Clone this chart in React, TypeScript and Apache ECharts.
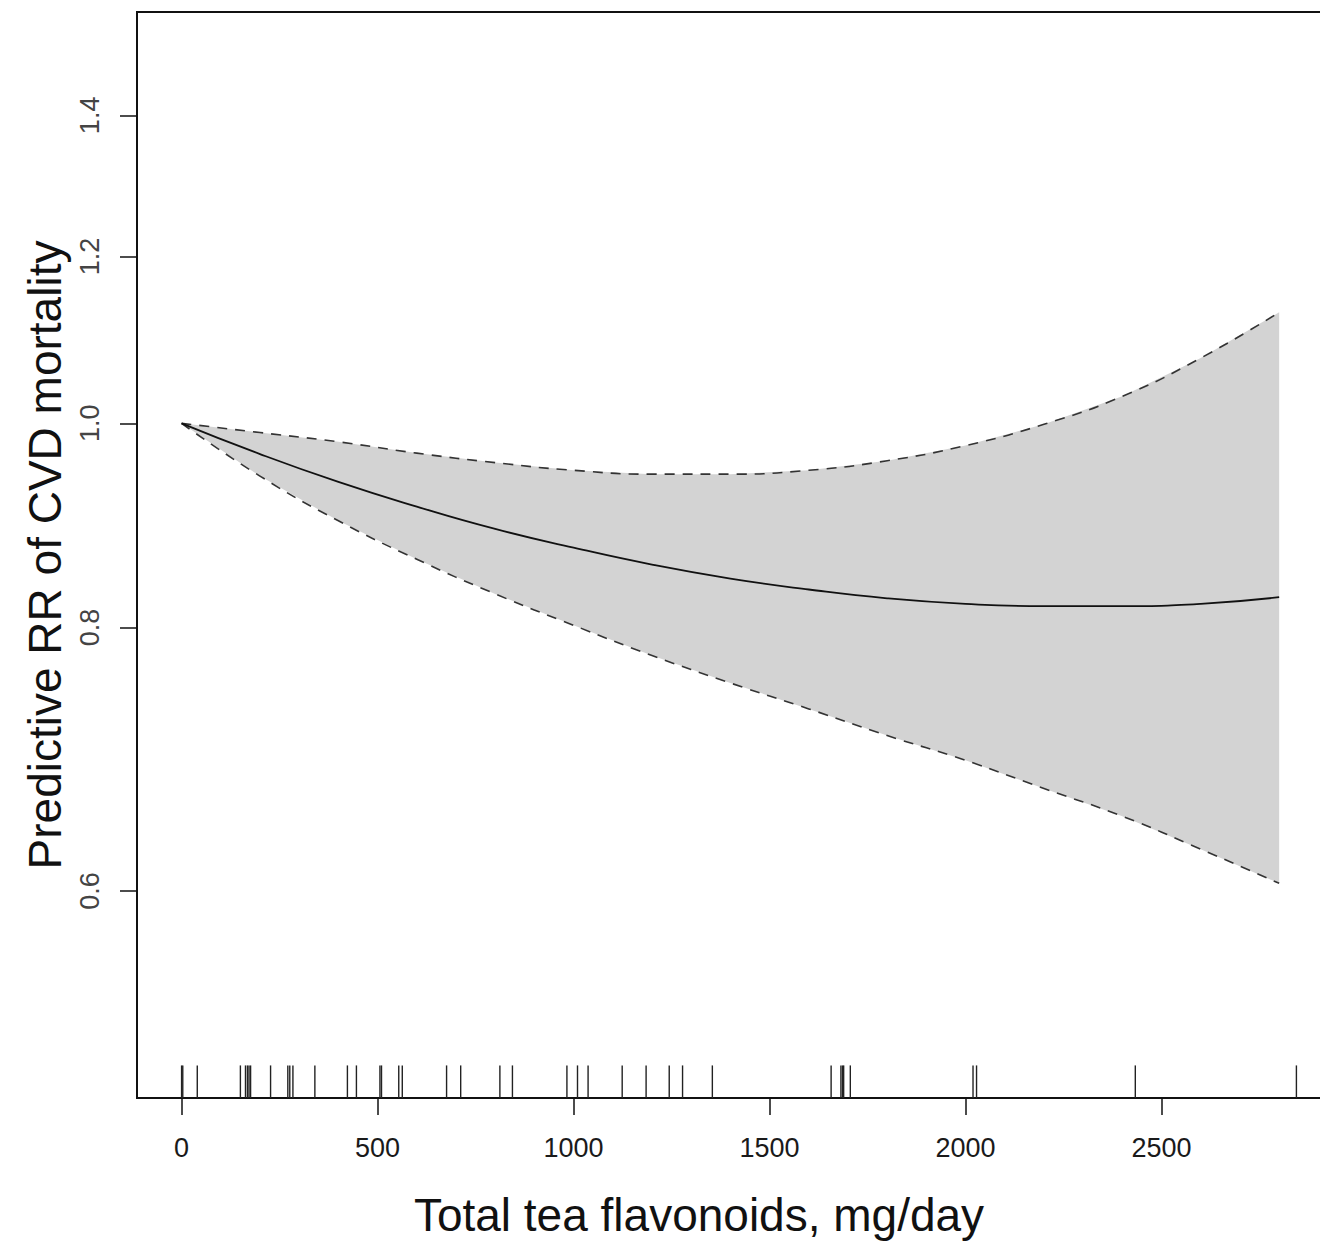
import React, { useEffect, useRef } from "react";
import * as echarts from "echarts";

// Predicted relative risk of CVD mortality by total tea flavonoid intake
// (spline estimate with 95% confidence band, rug of observed intakes).
const INTAKE = [0, 200, 400, 600, 800, 1000, 1200, 1400, 1600, 1800, 2000, 2200, 2400, 2600, 2800];
const RR_MEAN = [1.0, 0.967, 0.938, 0.913, 0.891, 0.873, 0.857, 0.844, 0.834, 0.826, 0.821, 0.819, 0.819, 0.821, 0.827];
const RR_UPPER = [1.0, 0.99, 0.98, 0.968, 0.958, 0.95, 0.946, 0.946, 0.95, 0.96, 0.976, 0.999, 1.03, 1.074, 1.129];
const RR_LOWER = [1.0, 0.944, 0.899, 0.862, 0.83, 0.802, 0.776, 0.753, 0.732, 0.711, 0.692, 0.671, 0.651, 0.628, 0.605];

// Observed intakes shown as a rug along the bottom
const RUG = [
  0, 3, 40, 150, 163, 168, 172, 176, 227, 271, 276, 284, 340, 423, 446, 506, 510, 554, 563, 676, 712,
  812, 844, 983, 1010, 1037, 1124, 1185, 1244, 1278, 1354, 1657, 1682, 1686, 1689, 1706, 2019, 2028,
  2433, 2844,
];

const X_TICKS = [0, 500, 1000, 1500, 2000, 2500];
const Y_TICKS = [0.6, 0.8, 1.0, 1.2, 1.4];
const X_LIMITS = [0, 2844];
const Y_LIMITS = [0.5, 1.5];

const X_TITLE = "Total tea flavonoids, mg/day";
const Y_TITLE = "Predictive RR of CVD mortality";

const FONT = "'Liberation Sans', Arial, Helvetica, sans-serif";

export default function App() {
  const ref = useRef<HTMLDivElement>(null);

  useEffect(() => {
    if (!ref.current) return;
    const chart = echarts.init(ref.current, undefined, { renderer: "svg" });

    // 4% padding on each side of the limits (x linear, y on a log scale)
    const xPad = 0.04 * (X_LIMITS[1] - X_LIMITS[0]);
    const xMin = X_LIMITS[0] - xPad;
    const xMax = X_LIMITS[1] + xPad;
    const lyLo = Math.log(Y_LIMITS[0]);
    const lyHi = Math.log(Y_LIMITS[1]);
    const yPad = 0.04 * (lyHi - lyLo);
    const yMin = lyLo - yPad;
    const yMax = lyHi + yPad;

    const lnMean = INTAKE.map((x, i) => [x, Math.log(RR_MEAN[i])]);
    const lnUpper = INTAKE.map((x, i) => [x, Math.log(RR_UPPER[i])]);
    const lnLower = INTAKE.map((x, i) => [x, Math.log(RR_LOWER[i])]);

    const dashed = { color: "#333", width: 1.6, type: [10, 8] as number[] };

    chart.setOption({
      animation: false,
      backgroundColor: "#fff",
      grid: {
        left: 137,
        top: 12,
        width: 1204,
        height: 1086,
        show: true,
        borderColor: "#111",
        borderWidth: 2,
        backgroundColor: "transparent",
      },
      xAxis: {
        type: "value",
        min: xMin,
        max: xMax,
        axisLine: { show: false, onZero: false },
        splitLine: { show: false },
        axisTick: {
          show: true,
          length: 17,
          customValues: X_TICKS,
          lineStyle: { color: "#111", width: 1.5 },
        },
        axisLabel: {
          customValues: X_TICKS,
          margin: 36,
          fontSize: 27,
          fontFamily: FONT,
          color: "#1a1a1a",
          formatter: (v: number) => String(Math.round(v)),
        },
      },
      yAxis: {
        type: "value",
        min: yMin,
        max: yMax,
        axisLine: { show: false, onZero: false },
        splitLine: { show: false },
        axisTick: {
          show: true,
          length: 17,
          customValues: Y_TICKS.map((t) => Math.log(t)),
          lineStyle: { color: "#111", width: 1.5 },
        },
        axisLabel: {
          customValues: Y_TICKS.map((t) => Math.log(t)),
          rotate: 90,
          margin: 34,
          fontSize: 27,
          fontFamily: FONT,
          color: "#444",
          formatter: (v: number) => Math.exp(v).toFixed(1),
        },
      },
      series: [
        // confidence band polygon: upper bound forward, lower bound back
        {
          type: "custom",
          silent: true,
          z: 1,
          data: [[0, 0]],
          renderItem: (_params: any, api: any) => {
            const top = lnUpper.map((p) => api.coord(p));
            const bottom = lnLower.map((p) => api.coord(p)).reverse();
            return {
              type: "polygon",
              shape: { points: top.concat(bottom) },
              style: { fill: "#d3d3d3", stroke: "none" },
            };
          },
        },
        {
          type: "line",
          z: 2,
          data: lnUpper,
          smooth: true,
          symbol: "none",
          silent: true,
          lineStyle: dashed,
        },
        {
          type: "line",
          z: 2,
          data: lnLower,
          smooth: true,
          symbol: "none",
          silent: true,
          lineStyle: dashed,
        },
        {
          type: "line",
          z: 3,
          data: lnMean,
          smooth: true,
          symbol: "none",
          silent: true,
          lineStyle: { color: "#111", width: 1.8 },
        },
        // rug: ticks 3% of the plot height tall
        {
          type: "custom",
          silent: true,
          z: 4,
          data: RUG.map((v) => [v, yMin]),
          renderItem: (_params: any, api: any) => {
            const x = api.value(0);
            const p0 = api.coord([x, yMin]);
            const p1 = api.coord([x, yMin + 0.03 * (yMax - yMin)]);
            return {
              type: "line",
              shape: { x1: p0[0], y1: p0[1], x2: p1[0], y2: p1[1] },
              style: { stroke: "#222", lineWidth: 1.4 },
            };
          },
        },
      ],
      graphic: [
        {
          type: "text",
          x: 699,
          y: 1215,
          style: {
            text: X_TITLE,
            fontSize: 46,
            fontFamily: FONT,
            fill: "#111",
            align: "center",
            verticalAlign: "middle",
          },
        },
        {
          type: "text",
          x: 45,
          y: 555,
          rotation: Math.PI / 2,
          style: {
            text: Y_TITLE,
            fontSize: 46,
            fontFamily: FONT,
            fill: "#111",
            align: "center",
            verticalAlign: "middle",
          },
        },
      ],
    });

    return () => chart.dispose();
  }, []);

  // The plotting frame runs past the right edge of the visible figure,
  // so the chart canvas is wider than the clipped wrapper.
  return (
    <div
      style={{
        position: "absolute",
        left: 0,
        top: 0,
        width: 1320,
        height: 1243,
        overflow: "hidden",
        background: "#fff",
      }}
    >
      <div ref={ref} style={{ width: 1380, height: 1243 }} />
    </div>
  );
}
